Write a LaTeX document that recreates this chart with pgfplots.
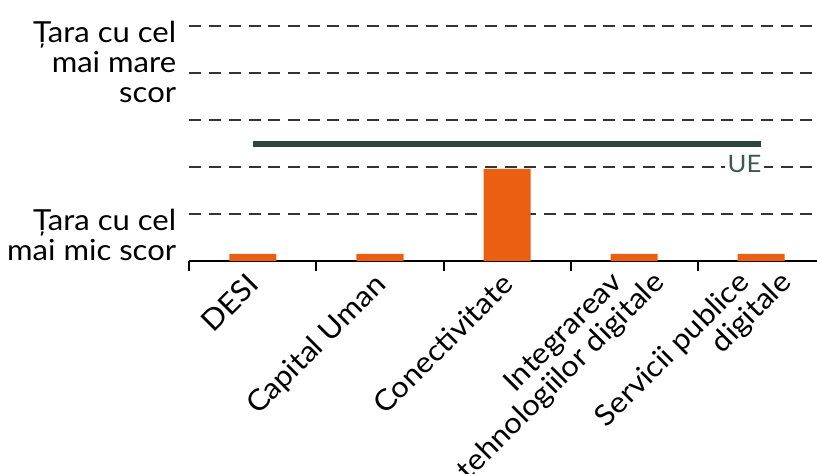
\documentclass[border=0pt]{standalone}
\usepackage{fontspec}
\setmainfont{Lato}[FakeStretch=1.07]
\usepackage{pgfplots}
\pgfplotsset{compat=1.18}

\definecolor{barorange}{HTML}{EA5F12}
\definecolor{uegreen}{HTML}{2C463D}
\definecolor{uetext}{HTML}{3E5A50}
\definecolor{gridgray}{HTML}{333333}

\newcommand{\lblfont}{\fontsize{14.5}{15}\selectfont}

\begin{document}
\begin{tikzpicture}
\begin{axis}[
  at={(0,0)}, anchor=origin,
  x=63.5pt, y=23.5pt,
  xmin=-0.5, xmax=4.5, ymin=0, ymax=5,
  clip=false,
  axis x line*=bottom, axis y line*=left,
  y axis line style={draw=none},
  x axis line style={black, line width=1pt, -},
  xtick={0,...,4},
  xticklabels={},
  major x tick style={draw=none},
  minor xtick={-0.5,0.5,...,4.5},
  minor x tick style={black, line width=1pt},
  minor tick length=5pt,
  tick align=outside,
  ytick={1,...,5},
  yticklabels={},
  y tick style={draw=none},
  ymajorgrids,
  major y grid style={gridgray, line width=1.2pt, dash pattern=on 6pt off 3.85pt},
]
% scores per dimension
\addplot[ybar, bar width=23.5pt, fill=barorange, draw=none]
  coordinates {(0,0.15) (1,0.15) (2,1.96) (3,0.15) (4,0.15)};
% EU average
\addplot[uegreen, line width=3pt] coordinates {(0,2.5) (4,2.5)};
\node[anchor=east, fill=white, text=uetext, inner sep=1.5pt,
  font=\fontsize{12}{12}\selectfont] at (axis cs:4.03,2.06) {UE};
% scale descriptions
\node[anchor=north east, align=right, inner sep=0pt, xshift=-6.5pt, yshift=2.5pt,
  font=\lblfont] at (axis cs:-0.5,5) {Țara cu cel\\mai mare\\scor};
\node[anchor=north east, align=right, inner sep=0pt, xshift=-6.5pt, yshift=2.5pt,
  font=\lblfont] at (axis cs:-0.5,1) {Țara cu cel\\mai mic scor};
% category labels, rotated
\tikzset{catlbl/.style={rotate=45, anchor=base east, inner sep=0pt, font=\lblfont}}
\node[catlbl] at ([xshift=4pt,yshift=-12.5pt]axis cs:0,0) {DESI};
\node[catlbl] at ([xshift=4pt,yshift=-12.5pt]axis cs:1,0) {Capital Uman};
\node[catlbl] at ([xshift=4pt,yshift=-12.5pt]axis cs:2,0) {Conectivitate};
\node[catlbl] at ([xshift=-5pt,yshift=-11.5pt]axis cs:3,0) {Integrareav};
\node[catlbl] at ([xshift=16pt,yshift=-11.5pt]axis cs:3,0) {tehnologiilor digitale};
\node[catlbl] at ([xshift=-5pt,yshift=-11.5pt]axis cs:4,0) {Servicii publice};
\node[catlbl] at ([xshift=16pt,yshift=-11.5pt]axis cs:4,0) {digitale};
\end{axis}
\pgfresetboundingbox
\path (-126.5pt,-106pt) rectangle (282pt,130.5pt);
\end{tikzpicture}
\end{document}
